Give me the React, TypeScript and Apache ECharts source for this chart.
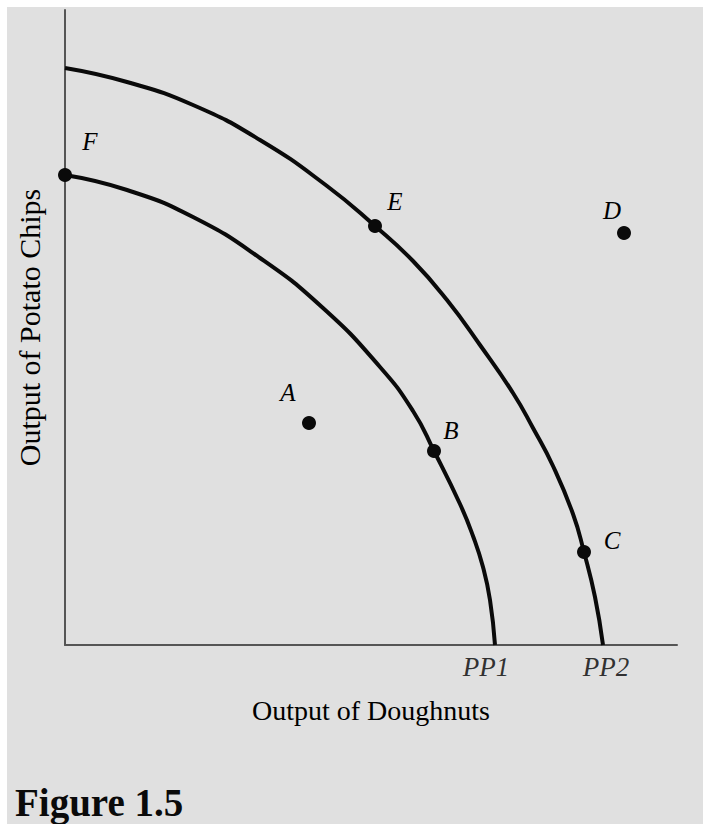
import React, { useEffect, useRef } from "react";
import * as echarts from "echarts";

// Data units: x = output of doughnuts, y = output of potato chips (arbitrary units)
const ppf1: [number, number][] = [
  [0, 470], [62, 455], [128, 428], [195, 387], [258, 337], [315, 278],
  [348, 234], [369, 194], [395, 141], [408, 109], [418, 78], [425, 45], [430, 0],
];
const ppf2: [number, number][] = [
  [0, 577], [62, 563], [128, 540], [195, 505], [262, 459], [310, 419],
  [348, 384], [382, 345], [415, 300], [448, 252], [468, 217], [488, 179],
  [508, 131], [519, 93], [530, 48], [538, 0],
];
const pointNames = ["A", "B", "C", "D", "E", "F"];
const pointXs = [244, 369, 519, 559, 310, 0];
const pointYs = [222, 194, 93, 412, 419, 470];
const labelOffsets: [number, number][] = [
  [-21, -31], [17, -21], [28, -12], [-12, -23], [20, -25], [25, -34],
];
const curveNames = ["PP1", "PP2"];
const curveEnds: [number, number][] = [[430, 0], [538, 0]];
const curveLabelOffsets: [number, number][] = [[-9, 22], [3, 22]];

const SERIF = "'Liberation Serif', 'Times New Roman', serif";

export default function App() {
  const ref = useRef<HTMLDivElement>(null);
  useEffect(() => {
    if (!ref.current) return;
    const chart = echarts.init(ref.current, undefined, { renderer: "svg" });
    const pointData = pointNames.map((n, i) => ({
      name: n,
      value: [pointXs[i], pointYs[i]],
      label: {
        show: true,
        formatter: n,
        position: "inside",
        offset: labelOffsets[i],
      },
    }));
    const endData = curveNames.map((n, i) => ({
      name: n,
      value: curveEnds[i],
      label: {
        show: true,
        formatter: n,
        position: "inside",
        offset: curveLabelOffsets[i],
        fontSize: 27,
      },
    }));
    chart.setOption({
      animation: false,
      backgroundColor: "#ffffff",
      graphic: [
        {
          type: "rect",
          z: -10,
          silent: true,
          shape: { x: 7, y: 7, width: 703, height: 824 },
          style: { fill: "#e0e0e0" },
        },
        {
          type: "text",
          left: 15,
          top: 782,
          style: {
            text: "Figure 1.5",
            font: `bold 39px ${SERIF}`,
            lineHeight: 40,
            fill: "#0a0a0a",
          },
        },
      ],
      grid: { left: 65, right: 26, top: 10, bottom: 179 },
      xAxis: {
        type: "value",
        min: 0,
        max: 612,
        name: "Output of Doughnuts",
        nameLocation: "middle",
        nameGap: 51,
        nameTextStyle: { fontFamily: SERIF, fontSize: 28, color: "#000" },
        axisLine: { show: true, lineStyle: { color: "#555", width: 2 } },
        axisTick: { show: false },
        axisLabel: { show: false },
        splitLine: { show: false },
      },
      yAxis: {
        type: "value",
        min: 0,
        max: 635,
        name: "Output of Potato Chips",
        nameLocation: "middle",
        nameGap: 21,
        nameTextStyle: { fontFamily: SERIF, fontSize: 30, color: "#000" },
        axisLine: { show: true, lineStyle: { color: "#555", width: 2 } },
        axisTick: { show: false },
        axisLabel: { show: false },
        splitLine: { show: false },
      },
      series: [
        {
          type: "line",
          name: "PP1",
          data: ppf1,
          smooth: 0.5,
          showSymbol: false,
          lineStyle: { color: "#0a0a0a", width: 4 },
          z: 3,
        },
        {
          type: "line",
          name: "PP2",
          data: ppf2,
          smooth: 0.5,
          showSymbol: false,
          lineStyle: { color: "#0a0a0a", width: 4 },
          z: 3,
        },
        {
          type: "scatter",
          name: "points",
          data: pointData,
          symbolSize: 14,
          itemStyle: { color: "#0a0a0a", opacity: 1 },
          label: {
            fontFamily: SERIF,
            fontStyle: "italic",
            fontSize: 25,
            color: "#000",
            align: "center",
            verticalAlign: "middle",
          },
          z: 5,
        },
        {
          type: "scatter",
          name: "curve labels",
          data: endData,
          symbolSize: 1,
          itemStyle: { color: "rgba(0,0,0,0)" },
          label: {
            fontFamily: SERIF,
            fontStyle: "italic",
            color: "#000",
            align: "center",
            verticalAlign: "middle",
          },
          z: 5,
        },
      ],
    });
    return () => chart.dispose();
  }, []);
  return (
    <div
      ref={ref}
      style={{ position: "fixed", left: 0, top: 0, width: 703, height: 824 }}
    />
  );
}
